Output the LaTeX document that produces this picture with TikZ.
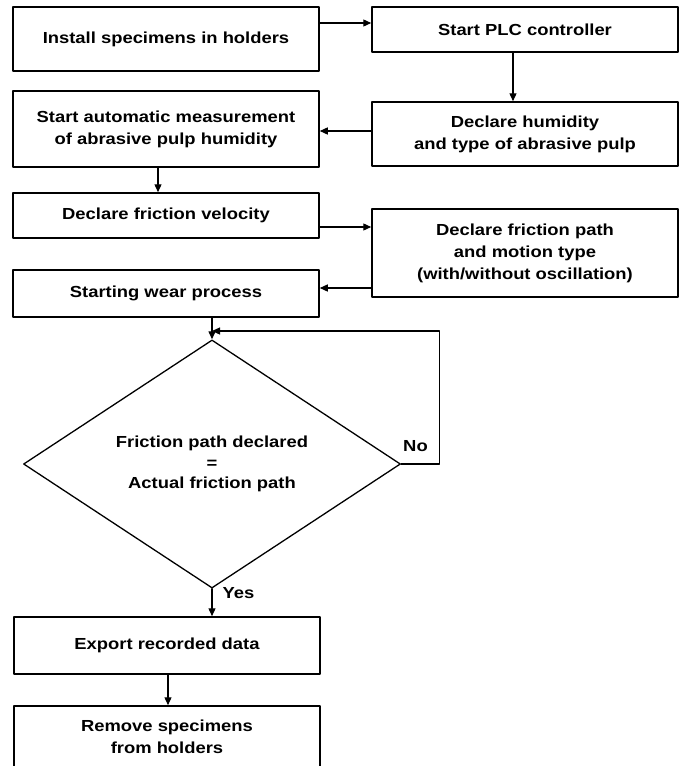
\documentclass[tikz,border=0pt]{standalone}
\usepackage{fontspec}
\setmainfont{Liberation Sans}[FakeStretch=1.15]
\usetikzlibrary{shapes,arrows.meta,shapes.geometric}
\usetikzlibrary{positioning}

\begin{document}
\begin{tikzpicture}[line cap=round,line join=round,>={Triangle[length=8pt,width=7pt]},x=1pt,y=-1pt,
		blk/.style={draw,line width=1.5pt,rectangle,align=center,inner sep=0pt,
			minimum width=306pt,font=\fontsize{16}{22}\selectfont\bfseries},
		dec/.style={draw,line width=1.3pt,diamond,align=center,inner sep=0pt,
			font=\fontsize{16}{20.5}\selectfont\bfseries},
		lbl/.style={font=\fontsize{16}{20}\selectfont\bfseries,inner sep=0pt},
		arr/.style={->,line width=1.3pt}]
	\path[use as bounding box,clip] (0,0) rectangle (681,766);
	% colonna sinistra / destra
	\node[blk,minimum height=64pt] (install) at (166,39) {Install specimens in holders};
	\node[blk,minimum height=45pt] (plc) at (525,29.5) {Start PLC controller};
	\node[blk,minimum height=64pt] (humid) at (525,134) {Declare humidity\\and type of abrasive pulp};
	\node[blk,minimum height=76pt] (measure) at (166,129) {Start automatic measurement\\of abrasive pulp humidity};
	\node[blk,minimum height=45pt] (veloc) at (166,215.5) {Declare friction velocity};
	\node[blk,minimum height=88pt] (fpath) at (525,253) {Declare friction path\\and motion type\\(with/without oscillation)};
	\node[blk,minimum height=47pt] (wear) at (166,293.5) {Starting wear process};
	\node[dec,minimum width=377pt,minimum height=232pt] (check) at (212,464) {Friction path declared\\=\\Actual friction path};
	\node[blk,minimum height=57pt] (export) at (167,645.5) {Export recorded data};
	\node[blk,minimum height=62pt] (remove) at (167,737) {Remove specimens\\from holders};
	\node[lbl] (no) at (415.5,446) {No};
	\node[lbl] (yes) at (238.5,593) {Yes};
	% frecce
	\draw[arr] (install.east |- 0,23) -- (plc.west |- 0,23);
	\draw[arr] (plc.south -| 513,0) -- (humid.north -| 513,0);
	\draw[arr] (humid.west |- 0,131) -- (measure.east |- 0,131);
	\draw[arr] (measure.south -| 158,0) -- (veloc.north -| 158,0);
	\draw[arr] (veloc.east |- 0,227) -- (fpath.west |- 0,227);
	\draw[arr] (fpath.west |- 0,288) -- (wear.east |- 0,288);
	\draw[arr] (wear.south -| check.north) -- (check.north);
	\draw[arr] (check.east) -- ++(38,0) |- (check.north |- 0,331); %ciclo No
	\draw[arr] (check.south) -- (export.north -| check.south);
	\draw[arr] (export.south -| 168,0) -- (remove.north -| 168,0);
\end{tikzpicture}
\end{document}
